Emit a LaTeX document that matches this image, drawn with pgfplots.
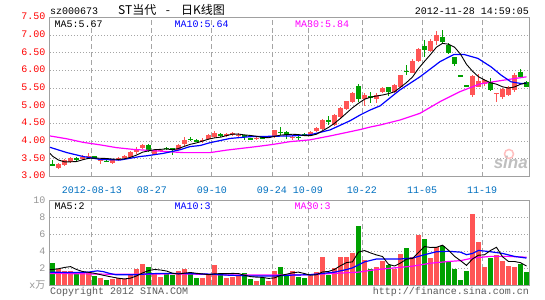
\documentclass[border=0pt]{standalone}
\usepackage{pgfplots}
\pgfplotsset{compat=1.18}
\usepackage{pgfplotstable}
\usepackage{fontspec}
\setmainfont{Liberation Mono}
\newfontfamily\cjk{Noto Sans CJK SC}
\newfontfamily\sinafont{Liberation Sans}
\definecolor{upred}{RGB}{255,85,85}
\definecolor{dngreen}{RGB}{0,160,0}
\definecolor{framegray}{RGB}{160,160,160}
\definecolor{gridgray}{RGB}{165,165,165}
\definecolor{datblue}{RGB}{0,112,192}
\definecolor{maten}{RGB}{0,0,255}
\definecolor{mathirty}{RGB}{255,0,255}
\definecolor{labgray}{RGB}{150,150,150}
\definecolor{copygray}{RGB}{90,90,90}
\newcommand\tf{\fontsize{10bp}{12bp}\selectfont}

\pgfplotstableread{
k o h l c v
0 3.35 3.48 3.29 3.33 2.63
1 3.24 3.40 3.21 3.37 1.90
2 3.34 3.50 3.31 3.46 1.70
3 3.42 3.55 3.40 3.52 1.65
4 3.54 3.56 3.43 3.46 1.40
5 3.49 3.60 3.47 3.57 1.45
6 3.57 3.67 3.52 3.58 1.45
7 3.58 3.59 3.49 3.50 1.10
8 3.48 3.52 3.36 3.49 0.85
9 3.44 3.46 3.41 3.43 0.63
10 3.39 3.51 3.36 3.49 0.75
11 3.50 3.57 3.45 3.53 0.80
12 3.54 3.62 3.50 3.58 0.70
13 3.57 3.73 3.55 3.71 1.30
14 3.72 3.83 3.64 3.74 1.95
15 3.80 3.93 3.77 3.90 2.50
16 3.90 3.93 3.70 3.72 2.20
17 3.62 3.78 3.60 3.74 1.35
18 3.72 3.79 3.70 3.76 1.00
19 3.82 3.84 3.76 3.80 1.35
20 3.80 3.82 3.62 3.78 1.20
21 3.76 3.92 3.74 3.90 1.70
22 3.91 4.13 3.88 4.05 1.90
23 4.06 4.12 4.02 4.05 1.40
24 4.05 4.06 3.97 3.99 0.85
25 4.01 4.08 3.96 4.04 0.85
26 4.07 4.21 4.05 4.17 1.25
27 4.12 4.28 4.08 4.23 2.40
28 4.21 4.22 4.13 4.15 1.50
29 4.15 4.23 4.13 4.21 0.85
30 4.17 4.27 4.15 4.24 1.00
31 4.16 4.23 4.10 4.18 1.15
32 4.17 4.18 4.04 4.12 1.40
33 4.08 4.10 4.03 4.07 0.70
34 4.06 4.12 4.05 4.10 0.55
35 4.13 4.16 4.06 4.08 0.85
36 4.10 4.15 4.08 4.13 0.55
37 4.12 4.32 4.10 4.31 1.70
38 4.27 4.40 4.17 4.25 2.15
39 4.26 4.28 4.07 4.17 1.25
40 4.11 4.16 4.05 4.13 1.70
41 4.13 4.16 4.05 4.09 0.95
42 4.20 4.22 4.14 4.15 0.85
43 4.19 4.28 4.17 4.25 1.15
44 4.28 4.40 4.26 4.38 1.55
45 4.35 4.63 4.33 4.61 3.35
46 4.59 4.70 4.47 4.57 1.25
47 4.45 4.76 4.43 4.73 2.05
48 4.68 4.96 4.66 4.94 3.35
49 4.90 5.15 4.88 5.13 3.35
50 5.11 5.38 5.09 5.36 3.80
51 5.55 5.62 5.11 5.20 7.00
52 5.18 5.36 5.00 5.31 2.95
53 5.29 5.38 5.07 5.22 1.95
54 5.20 5.36 5.07 5.30 2.15
55 5.39 5.53 5.36 5.50 2.90
56 5.52 5.54 5.27 5.39 2.40
57 5.39 5.62 5.37 5.58 1.95
58 5.52 5.88 5.50 5.86 3.68
59 5.98 6.15 5.88 5.96 4.40
60 5.94 6.31 5.92 6.28 3.35
61 6.27 6.62 6.25 6.60 5.90
62 6.68 6.85 6.39 6.58 5.45
63 6.55 6.90 6.52 6.83 3.17
64 6.84 7.11 6.72 7.00 4.47
65 6.95 7.13 6.74 6.81 4.60
66 6.72 6.78 6.46 6.48 2.90
67 6.37 6.39 6.13 6.17 1.92
68 5.85 5.85 5.84 5.84 0.62
69 5.57 5.58 5.55 5.56 1.68
70 5.30 5.86 5.25 5.84 8.40
71 5.54 5.91 5.52 5.70 5.10
72 5.63 5.77 5.55 5.72 2.15
73 5.66 5.78 5.42 5.44 3.17
74 5.34 5.37 5.12 5.36 3.53
75 5.25 5.50 5.20 5.47 2.86
76 5.32 5.55 5.29 5.52 2.27
77 5.45 5.92 5.40 5.88 2.15
78 5.96 6.05 5.80 5.82 2.50
79 5.66 5.70 5.52 5.54 1.56
}\kdata

\pgfplotsset{
  chartframe/.style={
    scale only axis, width=479bp,
    xmin=-0.4167, xmax=79.4167,
    axis line style={framegray, line width=1bp},
    major tick length=0pt,
    xtick={6.583,16.583,26.583,36.583,42.583,51.583,61.583,71.583},
    grid=major,
    x grid style={gridgray, line width=1bp, dash pattern=on 5bp off 3bp},
    y grid style={gridgray, line width=1bp, dash pattern=on 1bp off 2bp},
  },
  wick/.style={draw=none, no markers, forget plot,
    error bars/.cd, y dir=both, y explicit, error mark=none,
    error bar style={draw=#1, line width=1bp, line cap=butt}},
  body/.style={draw=none, no markers, forget plot,
    error bars/.cd, y dir=both, y explicit, error mark=none,
    error bar style={draw=#1, line width=5bp, line cap=butt}},
}

\begin{document}
\begin{tikzpicture}
\fill[white] (0,0) rectangle (545bp,300bp);
\useasboundingbox (0,0) rectangle (545bp,300bp);

% ---------------- price panel ----------------
\begin{axis}[chartframe,
  at={(50bp,123.3bp)}, anchor=south west, height=159.4bp,
  ymin=3, ymax=7.5,
  xticklabels={2012-08-13,08-27,09-10,09-24,10-09,10-22,11-05,11-19},
  ytick={3,3.5,4,4.5,5,5.5,6,6.5,7,7.5},
  yticklabels={3.00,3.50,4.00,4.50,5.00,5.50,6.00,6.50,7.00,7.50},
  xticklabel style={font=\tf, text=datblue, anchor=base, yshift=-17.3bp},
  yticklabel style={font=\tf, text=red, xshift=-1bp, yshift=1bp},
]
\addplot[restrict expr to domain={\thisrow{c}-\thisrow{o}}{0:10}, wick=upred]
  table[x=k, y expr={(\thisrow{h}+\thisrow{l})/2}, y error expr={max((\thisrow{h}-\thisrow{l})/2,0.005)}]{\kdata};
\addplot[restrict expr to domain={\thisrow{c}-\thisrow{o}}{-10:-0.0001}, wick=dngreen]
  table[x=k, y expr={(\thisrow{h}+\thisrow{l})/2}, y error expr={max((\thisrow{h}-\thisrow{l})/2,0.005)}]{\kdata};
\addplot[restrict expr to domain={\thisrow{c}-\thisrow{o}}{0:10}, body=upred]
  table[x=k, y expr={(\thisrow{o}+\thisrow{c})/2}, y error expr={max(abs(\thisrow{c}-\thisrow{o})/2,0.014)}]{\kdata};
\addplot[restrict expr to domain={\thisrow{c}-\thisrow{o}}{-10:-0.0001}, body=dngreen]
  table[x=k, y expr={(\thisrow{o}+\thisrow{c})/2}, y error expr={max(abs(\thisrow{c}-\thisrow{o})/2,0.014)}]{\kdata};

% MA30
\addplot[mathirty, line width=1.2bp, mark=none] coordinates {
(-0.42,4.15) (2.4,4.07) (5.1,3.97) (7.9,3.90) (10.7,3.82) (13.5,3.77) (16.25,3.74) (19,3.71) (21.8,3.68) (26.25,3.68) (29,3.75) (34,3.85) (36.7,3.91) (39.6,3.99) (42.9,4.04) (46.25,4.15) (49.6,4.27) (51.25,4.33) (52.9,4.40) (54.6,4.46) (57.9,4.60) (61.25,4.79) (64.6,5.12) (67.9,5.40) (71.25,5.62) (74.6,5.71) (77.4,5.78) (79,5.82)};
% MA10
\addplot[maten, line width=1.2bp, mark=none] coordinates {
(-0.42,3.83) (2.4,3.68) (5.1,3.57) (7.9,3.49) (11.25,3.47) (14.6,3.57) (15.7,3.59) (18.5,3.66) (21.25,3.76) (22.9,3.85) (24.6,3.88) (26.25,3.96) (29.6,4.08) (32.9,4.13) (39.6,4.15) (42.9,4.18) (46.25,4.32) (49.6,4.58) (51.25,4.74) (52.9,4.88) (54.6,5.00) (57.9,5.45) (61.25,5.82) (64.6,6.25) (66.9,6.45) (68.6,6.45) (70.9,6.34) (73.1,6.10) (74.75,5.87) (76.4,5.68) (78.1,5.63) (79,5.64)};
% MA5
\addplot[black, line width=0.9bp, mark=none] coordinates {
(-0.42,3.66) (0,3.58) (1,3.47) (2,3.42) (3,3.42) (4,3.428) (5,3.476) (6,3.518) (7,3.526) (8,3.52) (9,3.514) (10,3.498) (11,3.488) (12,3.504) (13,3.548) (14,3.61) (15,3.692) (16,3.73) (17,3.762) (18,3.772) (19,3.784) (20,3.76) (21,3.796) (22,3.858) (23,3.916) (24,3.954) (25,4.006) (26,4.06) (27,4.096) (28,4.116) (29,4.16) (30,4.20) (31,4.202) (32,4.18) (33,4.164) (34,4.142) (35,4.11) (36,4.10) (37,4.138) (38,4.174) (39,4.188) (40,4.198) (41,4.19) (42,4.158) (43,4.158) (44,4.20) (45,4.296) (46,4.392) (47,4.508) (48,4.646) (49,4.796) (50,4.946) (51,5.072) (52,5.188) (53,5.244) (54,5.278) (55,5.306) (56,5.344) (57,5.398) (58,5.526) (59,5.658) (60,5.814) (61,6.056) (62,6.256) (63,6.45) (64,6.658) (65,6.764) (66,6.74) (67,6.658) (68,6.46) (69,6.172) (70,5.978) (71,5.822) (72,5.732) (73,5.652) (74,5.612) (75,5.538) (76,5.502) (77,5.534) (78,5.61) (79,5.646)};
\end{axis}

% ---------------- volume panel ----------------
\begin{axis}[chartframe,
  at={(50bp,14.7bp)}, anchor=south west, height=85bp,
  ymin=0, ymax=10,
  xticklabels={},
  ytick={0,2,4,6,8,10},
  yticklabels={{x{\cjk 万}},2,4,6,8,10},
  yticklabel style={font=\tf, text=labgray, xshift=-1bp},
]
\addplot[restrict expr to domain={\thisrow{c}-\thisrow{o}}{0:10}, ycomb, upred, line width=5bp, mark=none, forget plot]
  table[x=k, y=v]{\kdata};
\addplot[restrict expr to domain={\thisrow{c}-\thisrow{o}}{-10:-0.0001}, ycomb, dngreen, line width=5bp, mark=none, forget plot]
  table[x=k, y=v]{\kdata};
% MA30 volume
\addplot[mathirty, line width=1.2bp, mark=none] coordinates {
(-0.42,1.4) (5,1.35) (10,1.3) (15,1.3) (20,1.35) (25,1.3) (30,1.2) (35,1.2) (40,1.2) (43,1.25) (47,1.4) (51,1.55) (54,1.85) (57,2.05) (60,2.25) (63,2.6) (66,2.8) (68,2.9) (70,3.2) (73,3.4) (76,3.4) (79,3.3)};
% MA10 volume
\addplot[maten, line width=1.2bp, mark=none] coordinates {
(-0.42,1.55) (3,1.5) (6,1.55) (7.5,1.7) (8.5,1.6) (9.5,1.4) (10.5,1.25) (14,1.25) (16,1.35) (18,1.4) (22,1.4) (24,1.35) (27,1.3) (29,1.2) (33,1.1) (37,1.1) (40,1.2) (43,1.25) (45,1.4) (47,1.55) (49,1.85) (50,2.05) (52,2.75) (54,3.1) (58,3.1) (60,3.2) (62,3.6) (64,3.95) (66,4.0) (68,3.9) (69,3.6) (70,3.75) (71,4.1) (73,3.95) (75,3.75) (77,3.4) (79,3.2)};
% MA5 volume
\addplot[black, line width=0.9bp, mark=none] coordinates {
(-0.42,1.85) (0,1.85) (1,1.95) (2,2.1) (3,2.2) (4,1.86) (5,1.62) (6,1.53) (7,1.41) (8,1.25) (9,1.10) (10,0.96) (11,0.83) (12,0.75) (13,0.84) (14,1.10) (15,1.45) (16,1.73) (17,1.86) (18,1.80) (19,1.68) (20,1.42) (21,1.32) (22,1.43) (23,1.51) (24,1.41) (25,1.34) (26,1.25) (27,1.35) (28,1.37) (29,1.37) (30,1.40) (31,1.38) (32,1.18) (33,1.02) (34,0.96) (35,0.93) (36,0.81) (37,0.87) (38,1.16) (39,1.30) (40,1.47) (41,1.55) (42,1.38) (43,1.18) (44,1.24) (45,1.57) (46,1.63) (47,1.87) (48,2.31) (49,2.67) (50,2.76) (51,3.91) (52,4.09) (53,3.81) (54,3.57) (55,3.39) (56,2.47) (57,2.27) (58,2.62) (59,3.07) (60,3.16) (61,3.86) (62,4.56) (63,4.45) (64,4.47) (65,4.72) (66,4.12) (67,3.41) (68,2.90) (69,2.34) (70,3.10) (71,3.54) (72,3.59) (73,4.10) (74,4.47) (75,3.36) (76,2.80) (77,2.80) (78,2.66) (79,2.27)};
\end{axis}

% ---------------- texts ----------------
\node[anchor=base west, inner sep=0pt, font=\tf] at (50bp,285bp) {sz000673};
\node[anchor=base west, inner sep=0pt, font=\cjk\fontsize{12bp}{14bp}\selectfont] at (118bp,285bp) {ST当代};
\node[anchor=base, inner sep=0pt, font=\cjk\fontsize{12bp}{14bp}\selectfont] at (168bp,285bp) {-};
\node[anchor=base west, inner sep=0pt, font=\cjk\fontsize{12bp}{14bp}\selectfont] at (181bp,285bp) {日K线图};
\node[anchor=base east, inner sep=0pt, font=\tf] at (529bp,285bp) {2012-11-28 14:59:05};

\node[anchor=base west, inner sep=0pt, font=\tf] at (54.5bp,272.7bp) {MA5:5.67};
\node[anchor=base west, inner sep=0pt, font=\tf, text=maten] at (174.5bp,272.7bp) {MA10:5.64};
\node[anchor=base west, inner sep=0pt, font=\tf, text=mathirty] at (295bp,272.7bp) {MA30:5.84};

\node[anchor=base west, inner sep=0pt, font=\tf] at (54.5bp,90.5bp) {MA5:2};
\node[anchor=base west, inner sep=0pt, font=\tf, text=maten] at (174.5bp,90.5bp) {MA10:3};
\node[anchor=base west, inner sep=0pt, font=\tf, text=mathirty] at (294.5bp,90.5bp) {MA30:3};

\node[anchor=base west, inner sep=0pt, font=\tf, text=copygray] at (50bp,6bp) {Copyright 2012 SINA.COM};
\node[anchor=base east, inner sep=0pt, font=\tf, text=copygray] at (529bp,6bp) {http://finance.sina.com.cn};

% sina watermark
\draw[red!25, line width=1.5bp] (509bp,146bp) circle (4.5bp);
\node[anchor=base east, inner sep=0pt, font=\sinafont\bfseries\itshape\fontsize{17bp}{18bp}\selectfont, text=black!25] at (528bp,131bp) {sina};
\end{tikzpicture}
\end{document}
